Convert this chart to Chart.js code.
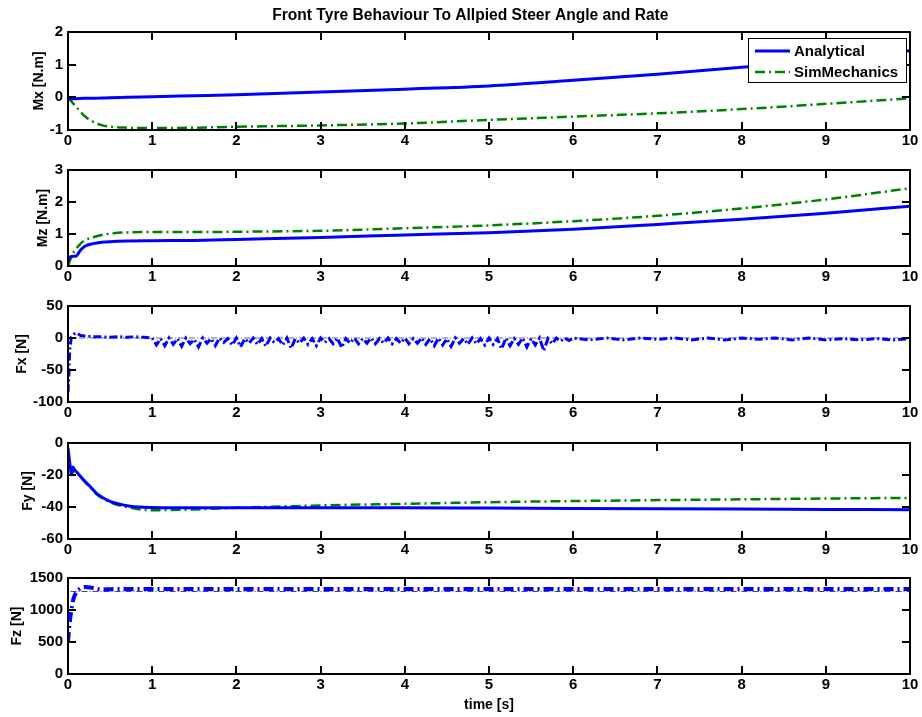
<!DOCTYPE html>
<html>
<head>
<meta charset="utf-8">
<script src="https://cdn.jsdelivr.net/npm/chart.js@4/dist/chart.umd.min.js"></script>
<style>
  html, body { margin: 0; padding: 0; background: #fff; }
  #wrap { position: relative; width: 922px; height: 717px; overflow: hidden; }
  .pane { position: absolute; left: 0; width: 922px; }
</style>
</head>
<body>
<div id="wrap">
  <div class="pane" style="top:0px"><canvas id="cMx" width="922" height="152"></canvas></div>
  <div class="pane" style="top:156px"><canvas id="cMz" width="922" height="132"></canvas></div>
  <div class="pane" style="top:292px"><canvas id="cFx" width="922" height="132"></canvas></div>
  <div class="pane" style="top:429px"><canvas id="cFy" width="922" height="132"></canvas></div>
  <div class="pane" style="top:564px"><canvas id="cFz" width="922" height="153"></canvas></div>
</div>
<script>
// ---- data ----
const seriesNames = ['Analytical', 'SimMechanics'];
const xTicks = [0, 1, 2, 3, 4, 5, 6, 7, 8, 9, 10];

const mxTime = [0, 0.1, 0.2, 0.3, 0.4, 0.5, 0.7, 1, 1.5, 2, 3, 4, 5, 6, 7, 8, 9, 10];
const mxAnalytical = [-0.05, -0.04, -0.03, -0.03, -0.02, -0.01, 0, 0.02, 0.05, 0.08, 0.16, 0.25, 0.35, 0.52, 0.71, 0.92, 1.15, 1.43];
const mxSim = [0, -0.3, -0.58, -0.75, -0.85, -0.9, -0.93, -0.94, -0.93, -0.9, -0.86, -0.8, -0.69, -0.59, -0.49, -0.36, -0.2, -0.03];

const mzTime = [0, 0.02, 0.05, 0.1, 0.15, 0.2, 0.3, 0.4, 0.5, 0.7, 1, 1.5, 2, 3, 4, 5, 6, 7, 8, 9, 10];
const mzAnalytical = [0.15, 0.28, 0.3, 0.32, 0.5, 0.62, 0.7, 0.74, 0.76, 0.78, 0.79, 0.8, 0.83, 0.89, 0.97, 1.04, 1.15, 1.3, 1.46, 1.65, 1.87];
const mzSim = [0, 0.15, 0.35, 0.55, 0.7, 0.8, 0.9, 0.97, 1.01, 1.05, 1.06, 1.06, 1.07, 1.1, 1.18, 1.27, 1.4, 1.57, 1.8, 2.08, 2.43];

const fxTime = [0, 0.01, 0.02, 0.04, 0.07, 0.1, 0.15, 0.2, 0.3, 0.4, 0.5, 0.6, 0.7, 0.8, 0.9,
  1.00, 1.05, 1.10, 1.15, 1.20, 1.25, 1.30, 1.35, 1.40, 1.45, 1.50, 1.55, 1.60, 1.65, 1.70, 1.75, 1.80, 1.85, 1.90, 1.95,
  2.00, 2.05, 2.10, 2.15, 2.20, 2.25, 2.30, 2.35, 2.40, 2.45, 2.50, 2.55, 2.60, 2.65, 2.70, 2.75, 2.80, 2.85, 2.90, 2.95,
  3.00, 3.05, 3.10, 3.15, 3.20, 3.25, 3.30, 3.35, 3.40, 3.45, 3.50, 3.55, 3.60, 3.65, 3.70, 3.75, 3.80, 3.85, 3.90, 3.95,
  4.00, 4.05, 4.10, 4.15, 4.20, 4.25, 4.30, 4.35, 4.40, 4.45, 4.50, 4.55, 4.60, 4.65, 4.70, 4.75, 4.80, 4.85, 4.90, 4.95,
  5.00, 5.05, 5.10, 5.15, 5.20, 5.25, 5.30, 5.35, 5.40, 5.45, 5.50, 5.55, 5.60, 5.65, 5.70, 5.75, 5.80, 5.85, 5.90, 5.95,
  6.0, 6.2, 6.4, 6.6, 6.8, 7.0, 7.2, 7.4, 7.6, 7.8, 8.0, 8.2, 8.4, 8.6, 8.8, 9.0, 9.2, 9.4, 9.6, 9.8, 10];
const fxAnalytical = [-85, -60, -20, 2, 6, 8, 4, 3, 2, 2, 1, 2, 1, 2, 1,
  0, -11, -1, -12, 0, -10, -1, -13, 0, -9, -2, -14, 0, -8, -1, -12, 0, -7, -1, -11,
  0, -14, -1, -8, 0, -10, -1, -13, 0, -7, -1, -11, 0, -16, -1, -8, 0, -10, -1, -12,
  0, -7, -1, -9, 0, -15, -1, -8, 0, -9, -1, -8, 0, -9, -1, -8, 0, -9, -1, -8,
  0, -9, -1, -8, 0, -10, -1, -12, 0, -11, -1, -13, 0, -8, -1, -10, 0, -9, -1, -11,
  0, -10, -1, -17, 0, -12, -1, -10, 0, -14, -1, -11, 0, -20, -1, -9, 0, -5, 0, -4,
  0, -3, 0, -3, 0, -2, 0, -3, 0, -3, 0, -2, 0, -3, 0, -3, -1, -3, -1, -3, -1];
const fxRefTime = [0, 10];
const fxRef = [0, 0];

const fyTime = [0, 0.02, 0.04, 0.06, 0.08, 0.1, 0.15, 0.2, 0.26, 0.35, 0.5, 0.74, 1, 1.5, 2, 3, 4, 5, 6, 7, 8, 9, 10];
const fyAnalytical = [-3, -12, -19, -15, -17, -18, -21, -24, -27, -32, -36.5, -39.5, -40.3, -40.5, -40.5, -40.5, -40.5, -40.7, -40.9, -41.1, -41.3, -41.5, -41.7];
const fySim = [-5, -15, -20, -18, -17, -18, -21, -24, -27.5, -32.5, -37, -40.5, -42, -41.5, -40.5, -39, -38, -37, -36.3, -35.7, -35.2, -34.7, -34.3];

const fzTime = [0, 0.02, 0.04, 0.06, 0.08, 0.1, 0.15, 0.2, 0.3, 0.4, 0.5, 0.7, 1, 2, 3, 4, 5, 6, 7, 8, 9, 10];
const fzMain = [500, 800, 1000, 1150, 1230, 1280, 1340, 1360, 1345, 1320, 1325, 1330, 1330, 1330, 1330, 1330, 1330, 1330, 1330, 1330, 1330, 1330];
const fzRefTime = [0.03, 10];
const fzRef = [1290, 1290];

// ---- look ----
const BLUE = '#0000ff';
const GREEN = '#008000';
const FONT = "'Liberation Sans', Arial, sans-serif";
Chart.defaults.font.family = FONT;
Chart.defaults.color = '#000';

const pts = (t, v) => t.map((x, i) => ({ x, y: v[i] }));

const framePlugin = {
  id: 'frame',
  afterDatasetsDraw(chart) {
    const { ctx, chartArea: a, scales } = chart;
    const len = 8;
    ctx.save();
    ctx.strokeStyle = '#000';
    ctx.lineWidth = 2;
    ctx.beginPath();
    scales.x.ticks.forEach(t => {
      const px = Math.round(scales.x.getPixelForValue(t.value));
      ctx.moveTo(px, a.bottom); ctx.lineTo(px, a.bottom - len);
      ctx.moveTo(px, a.top); ctx.lineTo(px, a.top + len);
    });
    scales.y.ticks.forEach(t => {
      const py = Math.round(scales.y.getPixelForValue(t.value));
      ctx.moveTo(a.left, py); ctx.lineTo(a.left + len, py);
      ctx.moveTo(a.right, py); ctx.lineTo(a.right - len, py);
    });
    ctx.stroke();
    ctx.strokeRect(a.left, a.top, a.right - a.left, a.bottom - a.top);
    ctx.restore();
  }
};

const boxLegend = {
  id: 'boxLegend',
  afterDraw(chart, args, opts) {
    if (!opts.show) return;
    const { ctx } = chart;
    const x = 748, y = 38, w = 158, h = 44;
    ctx.save();
    ctx.fillStyle = '#fff';
    ctx.fillRect(x, y, w, h);
    ctx.strokeStyle = '#000';
    ctx.lineWidth = 1;
    ctx.strokeRect(x + 0.5, y + 0.5, w, h);
    ctx.font = 'bold 15px ' + FONT;
    ctx.textBaseline = 'middle';
    chart.data.datasets.slice(0, 2).forEach((ds, i) => {
      const ly = y + 13 + i * 21;
      ctx.strokeStyle = ds.borderColor;
      ctx.lineWidth = ds.borderWidth;
      ctx.setLineDash(ds.borderDash || []);
      ctx.beginPath();
      ctx.moveTo(x + 7, ly); ctx.lineTo(x + 42, ly);
      ctx.stroke();
      ctx.setLineDash([]);
      ctx.fillStyle = '#000';
      ctx.fillText(ds.label, x + 46, ly + 1);
    });
    ctx.restore();
  }
};

function makeChart(id, opt) {
  const padLeft = opt.titleX - 8.4;
  return new Chart(document.getElementById(id), {
    type: 'line',
    data: { datasets: opt.datasets },
    options: {
      responsive: false,
      animation: false,
      layout: { padding: { left: padLeft, right: 12, top: opt.padTop, bottom: 0 } },
      elements: { point: { radius: 0 } },
      plugins: {
        legend: { display: false },
        tooltip: { enabled: false },
        title: opt.title ? {
          display: true, text: opt.title, color: '#000',
          font: { size: 15.6, weight: 'bold' }, padding: { top: 6, bottom: 7.3 }
        } : { display: false },
        boxLegend: { show: !!opt.legend }
      },
      scales: {
        x: {
          type: 'linear', min: 0, max: 10,
          afterBuildTicks: s => { s.ticks = xTicks.map(v => ({ value: v })); },
          afterFit: s => { s.height = opt.xHeight; },
          grid: { display: false, drawTicks: false },
          border: { display: false },
          ticks: { padding: 2, font: { size: 15, weight: 'bold' }, autoSkip: false, maxRotation: 0, callback: v => String(v) },
          title: opt.xTitle ? { display: true, text: opt.xTitle, font: { size: 14, weight: 'bold' }, padding: { top: 0, bottom: 3 } } : { display: false }
        },
        y: {
          min: opt.yMin, max: opt.yMax,
          afterBuildTicks: s => { s.ticks = opt.yTicks.map(v => ({ value: v })); },
          afterFit: s => { s.width = 68 - padLeft; },
          grid: { display: false, drawTicks: false },
          border: { display: false },
          ticks: { padding: 5, font: { size: 15, weight: 'bold' }, callback: v => String(v) },
          title: { display: true, text: opt.yTitle, font: { size: 14, weight: 'bold' }, padding: { top: 0, bottom: 0 } }
        }
      }
    },
    plugins: [framePlugin, boxLegend]
  });
}

const solid = (label, t, v) => ({ label, data: pts(t, v), borderColor: BLUE, borderWidth: 3, cubicInterpolationMode: 'monotone' });
const dashdot = (label, t, v) => ({ label, data: pts(t, v), borderColor: GREEN, borderWidth: 2.5, borderDash: [10, 4, 2, 4], cubicInterpolationMode: 'monotone' });

makeChart('cMx', {
  title: 'Front Tyre Behaviour To Allpied Steer Angle and Rate', legend: true,
  padTop: 0, xHeight: 22, titleX: 39,
  yTitle: 'Mx [N.m]', yMin: -1, yMax: 2, yTicks: [-1, 0, 1, 2],
  datasets: [solid(seriesNames[0], mxTime, mxAnalytical), dashdot(seriesNames[1], mxTime, mxSim)]
});

makeChart('cMz', {
  padTop: 12, xHeight: 22, titleX: 43,
  yTitle: 'Mz [N.m]', yMin: 0, yMax: 3, yTicks: [0, 1, 2, 3],
  datasets: [solid(seriesNames[0], mzTime, mzAnalytical), dashdot(seriesNames[1], mzTime, mzSim)]
});

makeChart('cFx', {
  padTop: 12, xHeight: 22, titleX: 22,
  yTitle: 'Fx [N]', yMin: -100, yMax: 50, yTicks: [-100, -50, 0, 50],
  datasets: [
    { label: seriesNames[0], data: pts(fxTime, fxAnalytical), borderColor: BLUE, borderWidth: 3, borderDash: [8, 3, 2, 3], tension: 0 },
    { label: seriesNames[1], data: pts(fxRefTime, fxRef), borderColor: '#6a6a8a', borderWidth: 1, borderDash: [6, 2, 1, 2] }
  ]
});

makeChart('cFy', {
  padTop: 12, xHeight: 22, titleX: 28,
  yTitle: 'Fy [N]', yMin: -60, yMax: 0, yTicks: [-60, -40, -20, 0],
  datasets: [solid(seriesNames[0], fyTime, fyAnalytical), dashdot(seriesNames[1], fyTime, fySim)]
});

makeChart('cFz', {
  padTop: 12, xHeight: 43, titleX: 17, xTitle: 'time [s]',
  yTitle: 'Fz [N]', yMin: 0, yMax: 1500, yTicks: [0, 500, 1000, 1500],
  datasets: [
    { label: seriesNames[0], data: pts(fzTime, fzMain), borderColor: BLUE, borderWidth: 4, borderDash: [10, 4, 2, 4], cubicInterpolationMode: 'monotone' },
    { label: seriesNames[1], data: pts(fzRefTime, fzRef), borderColor: '#3a3a80', borderWidth: 1, borderDash: [6, 2, 1, 2] }
  ]
});
</script>
</body>
</html>
